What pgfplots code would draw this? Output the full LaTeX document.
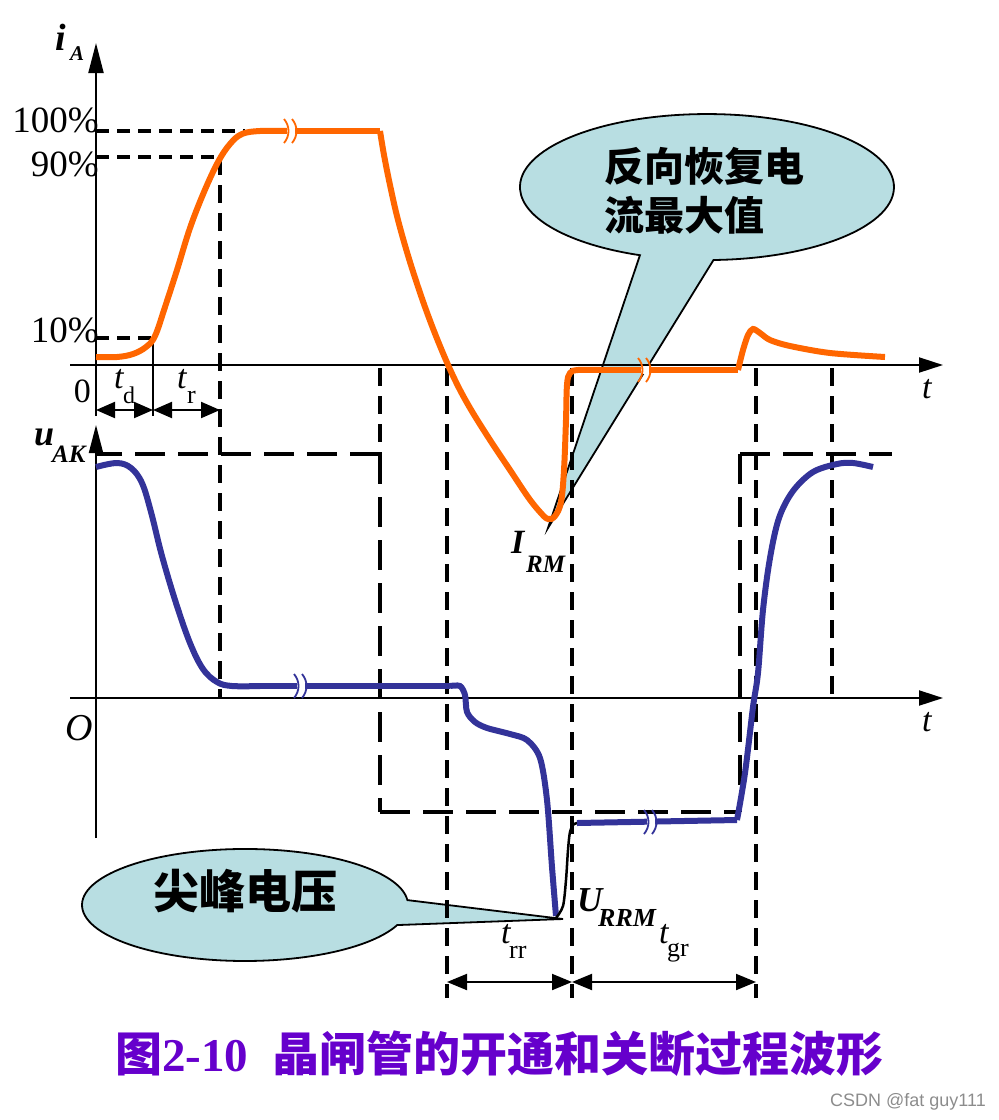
\documentclass[border=0pt]{standalone}
\usepackage{pgfplots}
\pgfplotsset{compat=1.18}
\usepackage{fontspec}
\setmainfont{Liberation Serif}
\setsansfont{Liberation Sans}
\newfontfamily\cjk{Noto Sans CJK SC}
\usetikzlibrary{arrows.meta}
\definecolor{ora}{RGB}{255,102,0}
\definecolor{blu}{RGB}{51,51,153}
\definecolor{bub}{RGB}{184,222,226}
\definecolor{pur}{RGB}{102,0,204}
\newcommand{\fs}[1]{\fontsize{#1}{#1}\selectfont}
\newcommand{\brk}[4]{%
  \draw[white, line width=8pt] (axis cs:#1,#3) -- (axis cs:#2,#3);
  \draw[#4, line width=1.8pt] (axis cs:#1,#3) ++(-3pt,12pt) .. controls +(6pt,-7pt) and +(6pt,7pt) .. +(0pt,-24pt);
  \draw[#4, line width=1.8pt] (axis cs:#2,#3) ++(-3pt,12pt) .. controls +(6pt,-7pt) and +(6pt,7pt) .. +(0pt,-24pt);
}
\begin{document}
\begin{tikzpicture}
\begin{axis}[
  scale only axis, width=999pt, height=1120pt,
  xmin=0, xmax=999, ymin=0, ymax=1120, y dir=reverse,
  hide axis, clip=false,
]
\path (axis cs:0,0) rectangle (axis cs:999,1120);

% callout bubbles
\draw[black, line width=1.8pt, fill=bub] (axis cs:713.5,260) arc[start angle=272, end angle=609, x radius=187pt, y radius=73pt] -- (axis cs:548,528) -- cycle;
\draw[black, line width=1.8pt, fill=bub] (axis cs:407.4,900.1) arc[start angle=5, end angle=339, x radius=163pt, y radius=56pt] -- (axis cs:563,919) -- cycle;

% axes
\draw[black, line width=2pt, -{Triangle[length=30pt,width=15pt]}] (axis cs:96,416) -- (axis cs:96,43);
\draw[black, line width=2pt, -{Triangle[length=24pt,width=15pt]}] (axis cs:70,365) -- (axis cs:943,365);
\draw[black, line width=2pt, -{Triangle[length=28pt,width=14pt]}] (axis cs:96,838) -- (axis cs:96,425);
\draw[black, line width=2pt, -{Triangle[length=24pt,width=15pt]}] (axis cs:70,698) -- (axis cs:943,698);

% short dashed guides
\addplot[black, line width=3.5pt, dash pattern=on 13pt off 8pt] coordinates {(96,131) (245,131)};
\addplot[black, line width=3.5pt, dash pattern=on 13pt off 8pt] coordinates {(96,157) (220,157)};
\addplot[black, line width=3.5pt, dash pattern=on 13pt off 8pt] coordinates {(96,338) (153,338)};
\addplot[black, line width=3.5pt, dash pattern=on 18pt off 10pt] coordinates {(220,157) (220,697)};
\addplot[black, line width=2.5pt] coordinates {(153,338) (153,416)};
\addplot[black, line width=3.5pt, dash pattern=on 18pt off 10pt] coordinates {(380,368) (380,454)};
\addplot[black, line width=3.5pt, dash pattern=on 18pt off 10pt] coordinates {(447,368) (447,998)};
\addplot[black, line width=3.5pt, dash pattern=on 18pt off 10pt] coordinates {(572,368) (572,998)};
\addplot[black, line width=3.5pt, dash pattern=on 18pt off 10pt] coordinates {(756,368) (756,998)};
\addplot[black, line width=3.5pt, dash pattern=on 18pt off 10pt] coordinates {(832,368) (832,697)};
% ideal waveform (segments start at the corners)
\addplot[black, line width=3.5pt, dash pattern=on 30pt off 13pt] coordinates {(380,454) (96,454)};
\addplot[black, line width=3.5pt, dash pattern=on 30pt off 13pt] coordinates {(380,454) (380,812)};
\addplot[black, line width=3.5pt, dash pattern=on 30pt off 13pt] coordinates {(380,812) (740,812)};
\addplot[black, line width=3.5pt, dash pattern=on 30pt off 13pt] coordinates {(740,454) (740,812)};
\addplot[black, line width=3.5pt, dash pattern=on 30pt off 13pt] coordinates {(740,454) (892,454)};

% time interval arrows
\draw[black, line width=2pt, {Triangle[length=19pt,width=16pt]}-{Triangle[length=19pt,width=16pt]}] (axis cs:96,410) -- (axis cs:153,410);
\draw[black, line width=2pt, {Triangle[length=19pt,width=16pt]}-{Triangle[length=19pt,width=16pt]}] (axis cs:153,410) -- (axis cs:220,410);
\draw[black, line width=2pt, {Triangle[length=20pt,width=16pt]}-{Triangle[length=20pt,width=16pt]}] (axis cs:447,982) -- (axis cs:572,982);
\draw[black, line width=2pt, {Triangle[length=20pt,width=16pt]}-{Triangle[length=20pt,width=16pt]}] (axis cs:572,982) -- (axis cs:756,982);

% i_A curve (orange)
\addplot[ora, line width=6pt, smooth, tension=0.6] coordinates {(96,357) (117,357) (133,354) (146,347) (155,336) (165,307) (177,270) (190,228) (204,192) (218,162) (230,144) (242,134) (260,131) (291,131)};
\addplot[ora, line width=6pt] coordinates {(291,131) (380,131)};
\addplot[ora, line width=6pt, smooth, tension=0.6] coordinates {(380,131) (384,155) (390,185) (398,220) (410,262) (425,307) (440,346) (455,380) (470,408) (490,440) (510,470) (528,497) (540,512) (548,519) (555,516) (561,502) (564,470) (566,420) (567,385) (570,373) (578,370) (600,370)};
\addplot[ora, line width=6pt] coordinates {(600,370) (738,370)};
\addplot[ora, line width=6pt, smooth, tension=0.5] coordinates {(738,370) (743,350) (748,335) (753,329) (760,333) (770,340) (790,346) (830,353) (885,357)};
\brk{287}{295}{131}{ora}
\brk{641}{649}{370}{ora}

% u_AK curve (blue)
\addplot[blu, line width=6pt, smooth, tension=0.6] coordinates {(96,467) (117,463) (131,468) (142,483) (151,512) (162,556) (176,603) (190,643) (203,669) (217,682) (232,686) (260,686)};
\addplot[blu, line width=6pt] coordinates {(260,686) (450,686)};
\addplot[blu, line width=6pt, smooth, tension=0.5] coordinates {(450,686) (460,686) (465,695) (467,712) (475,722) (487,728) (510,734) (527,740) (540,758) (547,800) (552,867) (556,916)};
\addplot[black, line width=2.5pt, smooth, tension=0.5] coordinates {(556,918) (563,906) (566,880) (568,850) (570,832) (574,824) (579,823)};
\addplot[blu, line width=6pt] coordinates {(577,823) (737,820)};
\addplot[blu, line width=6pt, smooth, tension=0.55] coordinates {(737,820) (745,773) (753,707) (758,673) (763,610) (770,558) (779,518) (793,491) (813,472) (837,464) (853,463) (873,467)};
\brk{297}{305}{686}{blu}
\brk{647}{655}{822}{blu}

% labels
\node[anchor=base west, inner sep=0pt, font=\fs{38}\bfseries\itshape] at (axis cs:55,50) {i};
\node[anchor=base west, inner sep=0pt, font=\fs{21}\bfseries\itshape] at (axis cs:70,60) {A};
\node[anchor=base east, inner sep=0pt, font=\fs{37}] at (axis cs:99,132) {100\%};
\node[anchor=base east, inner sep=0pt, font=\fs{37}] at (axis cs:99,176) {90\%};
\node[anchor=base east, inner sep=0pt, font=\fs{37}] at (axis cs:99,342) {10\%};
\node[anchor=base east, inner sep=0pt, font=\fs{34}] at (axis cs:91,402) {0};
\node[anchor=base west, inner sep=0pt, font=\fs{34}\itshape] at (axis cs:114,388) {t};
\node[anchor=base west, inner sep=0pt, font=\fs{24}] at (axis cs:123,403) {d};
\node[anchor=base west, inner sep=0pt, font=\fs{34}\itshape] at (axis cs:177,388) {t};
\node[anchor=base west, inner sep=0pt, font=\fs{26}] at (axis cs:187,403) {r};
\node[anchor=base west, inner sep=0pt, font=\fs{36}\bfseries\itshape] at (axis cs:34,445) {u};
\node[anchor=base west, inner sep=0pt, font=\fs{25}\bfseries\itshape] at (axis cs:52,462) {AK};
\node[anchor=base west, inner sep=0pt, font=\fs{38}\itshape] at (axis cs:65,740) {O};
\node[anchor=base west, inner sep=0pt, font=\fs{34}\itshape] at (axis cs:922,398) {t};
\node[anchor=base west, inner sep=0pt, font=\fs{34}\itshape] at (axis cs:922,731) {t};
\node[anchor=base west, inner sep=0pt, font=\fs{34}\bfseries\itshape] at (axis cs:511,553) {I};
\node[anchor=base west, inner sep=0pt, font=\fs{25}\bfseries\itshape] at (axis cs:526,572) {RM};
\node[anchor=base west, inner sep=0pt, font=\fs{35}\bfseries\itshape] at (axis cs:577,911) {U};
\node[anchor=base west, inner sep=0pt, font=\fs{26}\bfseries\itshape] at (axis cs:598,926) {RRM};
\node[anchor=base west, inner sep=0pt, font=\fs{34}\itshape] at (axis cs:501,943) {t};
\node[anchor=base west, inner sep=0pt, font=\fs{26}] at (axis cs:509,958) {rr};
\node[anchor=base west, inner sep=0pt, font=\fs{34}\itshape] at (axis cs:659,943) {t};
\node[anchor=base west, inner sep=0pt, font=\fs{26}] at (axis cs:667,956) {gr};

% callout texts
\node[anchor=base west, inner sep=0pt, font=\cjk\bfseries\fs{40}] at (axis cs:604,181) {反向恢复电};
\node[anchor=base west, inner sep=0pt, font=\cjk\bfseries\fs{40}] at (axis cs:604,230) {流最大值};
\node[anchor=base west, inner sep=0pt, font=\cjk\bfseries\fs{46}] at (axis cs:153,908) {尖峰电压};

% caption
\node[anchor=base west, inner sep=0pt, text=pur, font=\cjk\bfseries\fs{47}] at (axis cs:115,1071) {图{\rmfamily\bfseries 2-10}\hspace{24pt}晶闸管的开通和关断过程波形};
\node[anchor=base east, inner sep=0pt, text=black!45, font=\sffamily\fs{18}] at (axis cs:986,1106) {CSDN @fat guy111};
\end{axis}
\end{tikzpicture}
\end{document}
